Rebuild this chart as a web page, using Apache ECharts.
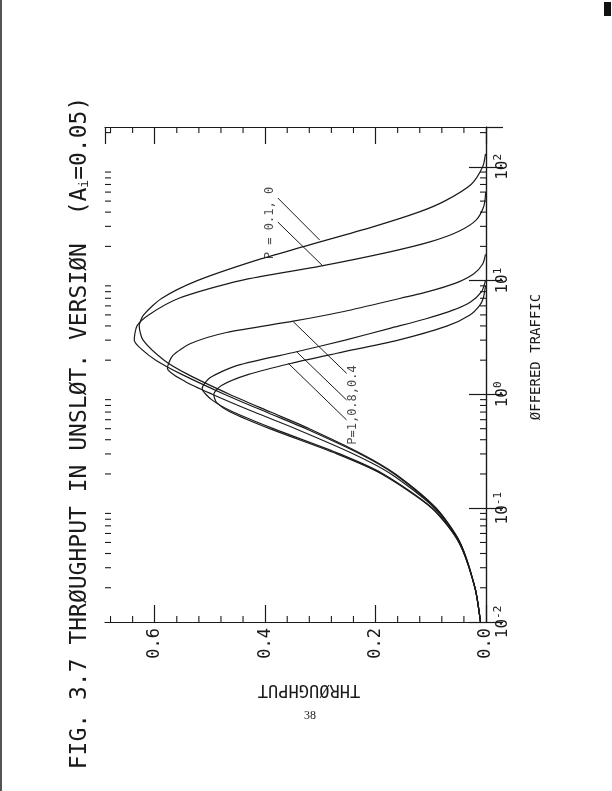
<!DOCTYPE html>
<html><head><meta charset="utf-8">
<script src="https://cdn.jsdelivr.net/npm/echarts@6/dist/echarts.min.js"></script>
<style>html,body{margin:0;padding:0;background:#fff;} #c{width:612px;height:791px;}</style>
</head><body><div id="c"></div>
<script>
// ---- data (throughput S vs offered traffic G) ----
const trafficP0 = [0.01,0.02,0.05,0.1,0.2,0.3,0.5,0.7,1,1.5,2,3,4,5,7,10,15,20,30,40,50,70,100,130];
const thrP0     = [0.010,0.020,0.047,0.090,0.164,0.225,0.320,0.390,0.464,0.540,0.583,0.621,0.628,0.620,0.587,0.523,0.418,0.329,0.202,0.122,0.075,0.027,0.006,0.001];
const trafficP01 = [0.01,0.02,0.05,0.1,0.2,0.3,0.5,0.7,1,1.5,2,2.5,3,4,5,7,10,13.4,17.9,22,27,34,45,60];
const thrP01     = [0.010,0.020,0.047,0.091,0.166,0.228,0.326,0.398,0.473,0.551,0.598,0.624,0.637,0.632,0.611,0.556,0.445,0.300,0.174,0.100,0.050,0.018,0.004,0.0005];
const trafficP04 = [0.01,0.02,0.05,0.1,0.2,0.3,0.5,0.7,1,1.3,1.7,2.2,2.8,3.5,4.4,5.3,6.66,8,9.5,11.5,14,17];
const thrP04     = [0.010,0.020,0.048,0.093,0.172,0.240,0.345,0.420,0.495,0.545,0.577,0.567,0.535,0.470,0.349,0.262,0.174,0.105,0.055,0.022,0.006,0.001];
const trafficP08 = [0.01,0.02,0.05,0.1,0.2,0.3,0.5,0.7,0.9,1.13,1.4,1.8,2.37,3,3.81,4.6,5.5,6.5,8,10];
const thrP08     = [0.010,0.020,0.049,0.097,0.186,0.265,0.385,0.458,0.497,0.514,0.500,0.450,0.343,0.255,0.174,0.110,0.060,0.028,0.008,0.001];
const trafficP1 = [0.01,0.02,0.05,0.1,0.2,0.3,0.5,0.7,0.85,1,1.2,1.5,1.87,2.3,3,4,5,6,7,9];
const thrP1     = [0.010,0.020,0.049,0.098,0.189,0.270,0.392,0.463,0.488,0.493,0.479,0.430,0.354,0.270,0.159,0.070,0.029,0.012,0.005,0.001];

// axis ranges and ticks
const thrMin = 0, thrMax = 0.69;
const trafficMin = 0.01, trafficMax = 224;
const thrMinorTicks = [0.04,0.08,0.12,0.16,0.24,0.28,0.32,0.36,0.44,0.48,0.52,0.56,0.64,0.68];
const trafficMinorTicks = [0.02,0.03,0.04,0.05,0.06,0.07,0.08,0.09,0.2,0.3,0.4,0.5,0.6,0.7,0.8,0.9,2,3,4,5,6,7,8,9,20,30,40,50,60,70,80,90,200];

// annotations: leader lines [S1,G1,S2,G2] and label anchors
const leadersA = [[0.377,53.2,0.301,22.7],[0.377,32.7,0.295,13.4]];
const leadersB = [[0.2524,1.532,0.349,4.355],[0.2524,0.893,0.343,2.372],[0.2524,0.596,0.358,1.876]];
const labelA = {text:'P = 0.1, 0', s:0.391, g:32.1};
const labelB = {text:'P=1,0.8,0.4', s:0.241, g:0.807};

const titleText = 'FIG. 3.7 THRØUGHPUT IN UNSLØT. VERSIØN  (A{sub|i}=0.05)';
const xName = 'ØFFERED TRAFFIC';
const yName = 'THRØUGHPUT';
const pageNo = '38';

const FONT = 'DejaVu Sans Mono';
const INK = '#1a1a1a';

function pairs(s, g){ return s.map((v,i)=>[v, g[i]]); }
function curve(name, s, g){
  return {name, type:'line', data:pairs(s,g), showSymbol:false, symbol:'none', smooth:0.25,
    lineStyle:{color:INK, width:1.2}, clip:true, z:3};
}

const chart = echarts.init(document.getElementById('c'), null, {renderer:'canvas'});

const minorData = thrMinorTicks.map(t=>[t, trafficMin, 0]).concat(trafficMinorTicks.map(g=>[thrMax, g, 1]));

const supLabel = v => {
  const e = Math.round(Math.log10(v));
  return '10{sup|' + (e<0 ? '-' + (-e) : e) + '}';
};

const axisLineStyle = {color:INK, width:1.2};

const option = {
  animation:false,
  backgroundColor:'#fff',
  grid:{left:105, top:127, width:381, height:495, containLabel:false},
  xAxis:[
    {type:'value', inverse:true, min:thrMin, max:thrMax, interval:0.2, position:'bottom',
     axisLine:{show:true, lineStyle:axisLineStyle}, axisTick:{show:true, inside:true, length:17, lineStyle:axisLineStyle},
     splitLine:{show:false},
     axisLabel:{show:true, showMaxLabel:false, rotate:90, margin:6, fontFamily:FONT, fontSize:17, color:INK, formatter:v=>v.toFixed(1)}},
    {type:'value', inverse:true, min:thrMin, max:thrMax, interval:0.2, position:'top',
     axisLine:{show:true, lineStyle:axisLineStyle}, axisTick:{show:true, inside:true, length:17, lineStyle:axisLineStyle},
     splitLine:{show:false}, axisLabel:{show:false}}
  ],
  yAxis:[
    {type:'log', logBase:10, min:trafficMin, max:trafficMax, position:'right',
     axisLine:{show:true, lineStyle:axisLineStyle}, axisTick:{show:true, inside:true, length:17, lineStyle:axisLineStyle},
     splitLine:{show:false},
     axisLabel:{show:true, showMaxLabel:false, rotate:90, margin:7, fontFamily:FONT, fontSize:16, color:INK, formatter:supLabel,
       rich:{sup:{fontFamily:FONT, fontSize:11, verticalAlign:'top', padding:[0,0,8,0], color:INK}}}},
    {type:'log', logBase:10, min:trafficMin, max:trafficMax, position:'left',
     axisLine:{show:true, lineStyle:axisLineStyle}, axisTick:{show:true, inside:true, length:17, lineStyle:axisLineStyle},
     splitLine:{show:false}, axisLabel:{show:false}}
  ],
  series:[
    curve('P=0', thrP0, trafficP0),
    curve('P=0.1', thrP01, trafficP01),
    curve('P=0.4', thrP04, trafficP04),
    curve('P=0.8', thrP08, trafficP08),
    curve('P=1', thrP1, trafficP1),
    {type:'custom', name:'minorTicks', coordinateSystem:'cartesian2d', data:minorData, clip:false, silent:true, z:4,
     renderItem:(params, api)=>{
       const kind = api.value(2);
       if (kind === 0){
         const b = api.coord([api.value(0), trafficMin]);
         const t = api.coord([api.value(0), trafficMax]);
         return {type:'group', children:[
           {type:'line', shape:{x1:b[0], y1:b[1], x2:b[0], y2:b[1]-6}, style:{stroke:INK, lineWidth:1.1}},
           {type:'line', shape:{x1:t[0], y1:t[1], x2:t[0], y2:t[1]+6}, style:{stroke:INK, lineWidth:1.1}}
         ]};
       } else {
         const l = api.coord([thrMax, api.value(1)]);
         const r = api.coord([thrMin, api.value(1)]);
         return {type:'group', children:[
           {type:'line', shape:{x1:l[0], y1:l[1], x2:l[0]+6, y2:l[1]}, style:{stroke:INK, lineWidth:1.1}},
           {type:'line', shape:{x1:r[0], y1:r[1], x2:r[0]-6, y2:r[1]}, style:{stroke:INK, lineWidth:1.1}}
         ]};
       }
     }},
    {type:'custom', name:'leaders', coordinateSystem:'cartesian2d', data:leadersA.concat(leadersB).map(d=>[d[0],d[1],d[2],d[3]]),
     clip:false, silent:true, z:4,
     renderItem:(params, api)=>{
       const p1 = api.coord([api.value(0), api.value(1)]);
       const p2 = api.coord([api.value(2), api.value(3)]);
       return {type:'line', shape:{x1:p1[0], y1:p1[1], x2:p2[0], y2:p2[1]}, style:{stroke:INK, lineWidth:1}};
     }},
    {type:'scatter', name:'labels', symbolSize:0, silent:true, z:5,
     data:[{value:[labelA.s, labelA.g], name:labelA.text},{value:[labelB.s, labelB.g], name:labelB.text}],
     label:{show:true, position:'inside', rotate:90, formatter:p=>p.name, fontFamily:FONT, fontSize:12, color:INK}}
  ],
  graphic:[
    {type:'text', x:80, y:433, rotation:Math.PI/2, z:10,
     style:{text:titleText, fontFamily:FONT, fontSize:23, fill:INK, textAlign:'center', textVerticalAlign:'middle',
       rich:{sub:{fontFamily:FONT, fontSize:13, verticalAlign:'bottom', fill:INK}}}},
    {type:'text', x:309, y:689, rotation:Math.PI, z:10,
     style:{text:yName, fontFamily:FONT, fontSize:17, fill:INK, textAlign:'center', textVerticalAlign:'middle'}},
    {type:'text', x:536, y:357, rotation:Math.PI/2, z:10,
     style:{text:xName, fontFamily:FONT, fontSize:14, fill:INK, textAlign:'center', textVerticalAlign:'middle'}},
    {type:'text', x:310, y:716, z:10,
     style:{text:pageNo, fontFamily:'Liberation Serif', fontSize:12, fill:INK, textAlign:'center', textVerticalAlign:'middle'}},
    {type:'rect', shape:{x:0, y:0, width:2, height:791}, style:{fill:'#555'}, z:10},
    {type:'rect', shape:{x:604, y:2, width:7, height:14}, style:{fill:'#111'}, z:10}
  ]
};
chart.setOption(option);
</script>
</body></html>
